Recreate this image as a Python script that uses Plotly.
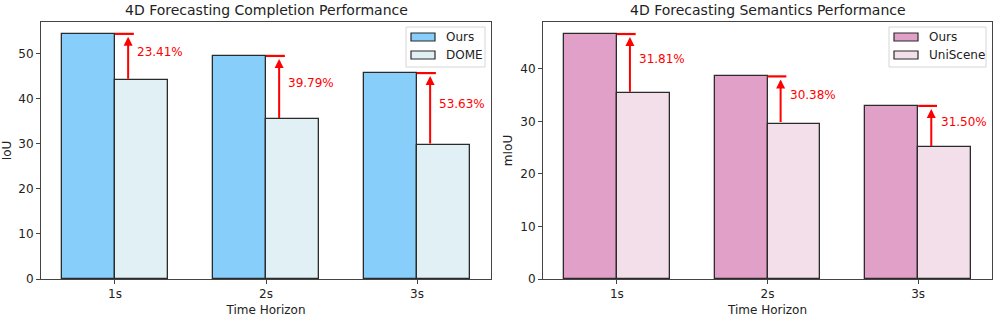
import plotly.graph_objects as go

HORIZONS = ["1s", "2s", "3s"]

# completion (IoU)
OURS_IOU = [54.32, 49.43, 45.63]
DOME_IOU = [44.02, 35.36, 29.70]
IOU_GAINS = ["23.41%", "39.79%", "53.63%"]

# semantics (mIoU)
OURS_MIOU = [46.66, 38.59, 32.97]
UNISCENE_MIOU = [35.40, 29.60, 25.07]
MIOU_GAINS = ["31.81%", "30.38%", "31.50%"]

WIDTH = 0.35
FONT = "DejaVu Sans"
EDGE = "#2b2b2b"
AXIS = "#444444"
TXT = "#222222"
W, H = 997, 323

shapes = []
annotations = []
fig = go.Figure()


def px(x, y):
    # pixel position in the picture -> paper coords
    return x / W, 1 - y / H


def add_legend(names, colors, box):
    l, t, r, b = box
    x0, y0 = px(l, t)
    x1, y1 = px(r, b)
    shapes.append(dict(type="rect", xref="paper", yref="paper", x0=x0, x1=x1,
                       y0=y1, y1=y0, line=dict(color="#d6d6d6", width=1),
                       fillcolor="white", layer="above"))
    for k, (nm, c) in enumerate(zip(names, colors)):
        cy = t + 10 + k * 18
        a0, b0 = px(l + 5, cy - 4)
        a1, b1 = px(l + 29, cy + 4)
        shapes.append(dict(type="rect", xref="paper", yref="paper", x0=a0, x1=a1,
                           y0=b1, y1=b0, fillcolor=c, layer="above",
                           line=dict(color=EDGE, width=1.2)))
        tx, ty = px(l + 38, cy)
        annotations.append(dict(text=nm, x=tx, y=ty, xref="paper", yref="paper",
                                xanchor="left", yanchor="middle", showarrow=False,
                                font=dict(size=12, family=FONT, color=TXT)))


def add_panel(ours, other, gains, names, colors, xa, ya, box):
    xs = list(range(len(HORIZONS)))
    fig.add_trace(go.Bar(
        x=[i - WIDTH / 2 for i in xs], y=ours, width=WIDTH, name=names[0],
        marker=dict(color=colors[0], line=dict(color=EDGE, width=1.3)),
        xaxis=xa, yaxis=ya, showlegend=False,
    ))
    fig.add_trace(go.Bar(
        x=[i + WIDTH / 2 for i in xs], y=other, width=WIDTH, name=names[1],
        marker=dict(color=colors[1], line=dict(color=EDGE, width=1.3)),
        xaxis=xa, yaxis=ya, showlegend=False,
    ))
    for i, hi, lo, g in zip(xs, ours, other, gains):
        # short red cap at the top value
        shapes.append(dict(type="line", x0=i, x1=i + 0.125, y0=hi, y1=hi,
                           xref=xa, yref=ya, line=dict(color="red", width=2.2)))
        # arrow from baseline up to ours
        annotations.append(dict(x=i + 0.087, y=hi, ax=i + 0.087, ay=lo,
                                xref=xa, yref=ya, axref=xa, ayref=ya,
                                showarrow=True, arrowhead=2, arrowsize=0.9,
                                arrowwidth=2, arrowcolor="red", text="",
                                standoff=3))
        annotations.append(dict(x=i + 0.135, y=(hi + lo) / 2, xref=xa, yref=ya,
                                text=g, showarrow=False, xanchor="left",
                                yanchor="middle", yshift=5,
                                font=dict(color="red", size=12, family=FONT)))
    add_legend(names, colors, box)


add_panel(OURS_IOU, DOME_IOU, IOU_GAINS, ["Ours", "DOME"],
          ["#87CEFA", "#E0F0F4"], "x", "y", (406, 27, 485, 67))
add_panel(OURS_MIOU, UNISCENE_MIOU, MIOU_GAINS, ["Ours", "UniScene"],
          ["#E0A0C8", "#F3DFEA"], "x2", "y2", (889, 27, 986, 67))

axis_common = dict(showline=True, mirror=True, linecolor=AXIS, linewidth=1,
                   ticks="outside", ticklen=4, tickcolor=AXIS, showgrid=False,
                   zeroline=False, automargin=False,
                   tickfont=dict(size=12, color=TXT, family=FONT))

xax = dict(axis_common, tickvals=[0, 1, 2], ticktext=HORIZONS, range=[-0.49, 2.49],
           title=dict(text="Time Horizon", font=dict(size=12, family=FONT, color=TXT),
                      standoff=5))

left_x = [px(41, 0)[0], px(491, 0)[0]]
right_x = [px(543, 0)[0], px(992, 0)[0]]
ydom = [px(0, 279)[1], px(0, 22)[1]]

fig.update_layout(
    width=W, height=H,
    margin=dict(l=0, r=0, t=0, b=0),
    paper_bgcolor="white", plot_bgcolor="white",
    barmode="overlay", bargap=0, showlegend=False,
    font=dict(family=FONT, color=TXT),
    xaxis=dict(xax, domain=left_x, anchor="y"),
    xaxis2=dict(xax, domain=right_x, anchor="y2"),
    yaxis=dict(axis_common, domain=ydom, range=[0, 56.95],
               tickvals=[0, 10, 20, 30, 40, 50], anchor="x",
               title=dict(text="IoU", font=dict(size=12, family=FONT, color=TXT),
                          standoff=5)),
    yaxis2=dict(axis_common, domain=ydom, range=[0, 48.95],
                tickvals=[0, 10, 20, 30, 40], anchor="x2",
                title=dict(text="mIoU", font=dict(size=12, family=FONT, color=TXT),
                           standoff=5)),
    shapes=shapes,
    annotations=annotations + [
        dict(text="4D Forecasting Completion Performance", x=sum(left_x) / 2,
             y=px(0, 10)[1], xref="paper", yref="paper", xanchor="center",
             yanchor="middle", showarrow=False,
             font=dict(size=14, family=FONT, color=TXT)),
        dict(text="4D Forecasting Semantics Performance", x=sum(right_x) / 2,
             y=px(0, 10)[1], xref="paper", yref="paper", xanchor="center",
             yanchor="middle", showarrow=False,
             font=dict(size=14, family=FONT, color=TXT)),
    ],
)

# drop the browser's default 8px body margin so the figure fills the window
fig.write_html("out.html", config={"displayModeBar": False},
               post_script="document.body.style.margin = '0';")
